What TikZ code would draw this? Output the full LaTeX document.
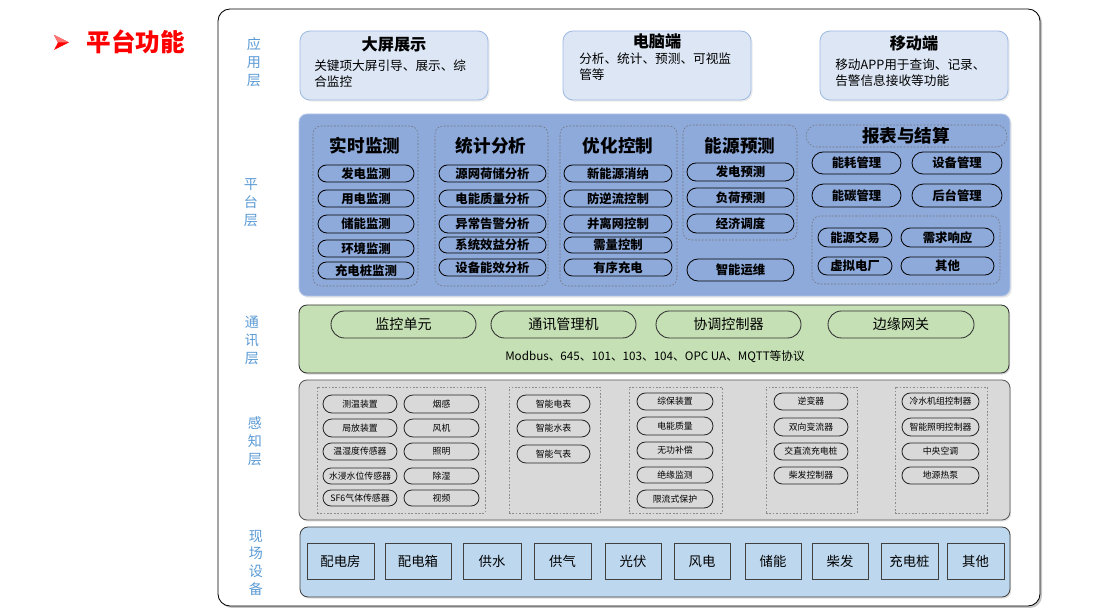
\documentclass[tikz,border=0pt]{standalone}
\usepackage{fontspec}
\setmainfont{Noto Sans CJK SC}
\usetikzlibrary{shapes.misc,shadows}
\definecolor{labblue}{HTML}{5B9BD5}
\definecolor{appfill}{HTML}{DCE6F4}
\definecolor{appdraw}{HTML}{9DB9E3}
\definecolor{platfill}{HTML}{8EAADB}
\definecolor{platdraw}{HTML}{B4C7E7}
\definecolor{commfill}{HTML}{C5E0B4}
\definecolor{percfill}{HTML}{D9D9D9}
\definecolor{fieldfill}{HTML}{BDD7EE}
\definecolor{titlered}{HTML}{FF0000}
\newcommand\mybox[7]{\node[#1, minimum width={(#4-#2)*0.25mm}, minimum height={(#5-#3)*0.25mm}] (#6) at ({(#2+#4)/2},{(#3+#5)/2}) {#7};}
\tikzset{
  base/.style={inner sep=0pt, outer sep=0pt},
  frame/.style={base, draw=black, line width=0.6pt, fill=white, rounded corners=3mm,
    drop shadow={opacity=0.45, shadow xshift=0.5mm, shadow yshift=-0.5mm}},
  lab/.style={text=labblue, align=center, font=\fontsize{10}{12.8}\selectfont},
  appbox/.style={base, draw=appdraw, line width=0.6pt, fill=appfill, rounded corners=2.5mm,
    drop shadow={opacity=0.15, shadow xshift=0.4mm, shadow yshift=-0.4mm}},
  apptitle/.style={font=\fontsize{11.5}{13}\selectfont\bfseries},
  appbody/.style={align=left, inner sep=0pt, anchor=north west, font=\fontsize{9}{10.8}\selectfont},
  layerbox/.style={base, line width=0.6pt, rounded corners=2mm},
  grp/.style={base, draw=black!55, line width=0.4pt, dash pattern=on 1.2pt off 1.2pt, rounded corners=2mm},
  pgrp/.style={base, draw=black!45, line width=0.4pt, dash pattern=on 1.2pt off 1.2pt},
  gtitle/.style={font=\fontsize{12.5}{14}\selectfont\bfseries},
  pill/.style={base, rounded rectangle, draw=black, line width=0.6pt, font=\fontsize{8.8}{10}\selectfont\bfseries},
  cpill/.style={base, rounded rectangle, draw=black!80, line width=0.6pt, font=\fontsize{10}{12}\selectfont},
  spill/.style={base, rounded rectangle, draw=black!85, line width=0.6pt, font=\fontsize{6.3}{7}\selectfont},
  sq/.style={base, draw=black!75, line width=0.7pt, fill=fieldfill, font=\fontsize{9.5}{11}\selectfont,
    drop shadow={opacity=0.35, shadow xshift=0.3mm, shadow yshift=-0.3mm}}
}
\begin{document}
\begin{tikzpicture}[x=0.25mm,y=-0.25mm]
\useasboundingbox (0,0) rectangle (1104,610);
% title
\fill[titlered] (54,35) -- (69,42.5) -- (54,50) -- (58,42.5) -- cycle;
\fill[titlered!55!white] (54,35) -- (69,42.5) -- (58,42.5) -- cycle;
\node[text=titlered, font=\fontsize{17.5}{20}\selectfont\bfseries] (title) at (136,42) {平台功能};
% outer frame
\mybox{frame}{218}{9}{1040}{606}{outer}{}
% layer labels
\node[lab] (l1) at (254,62) {应\\用\\层};
\node[lab] (l2) at (251,203) {平\\台\\层};
\node[lab] (l3) at (252,340) {通\\讯\\层};
\node[lab] (l4) at (255,441) {感\\知\\层};
\node[lab] (l5) at (256,563) {现\\场\\设\\备};
% application layer
\mybox{appbox}{300}{31}{488}{100}{a1}{}
\mybox{appbox}{563}{31}{751}{100}{a2}{}
\mybox{appbox}{820}{31}{1008}{100}{a3}{}
\node[apptitle] (a1t) at (394,44) {大屏展示};
\node[appbody] (a1b) at (314,60) {关键项大屏引导、展示、综\\合监控};
\node[apptitle] (a2t) at (657,41) {电脑端};
\node[appbody] (a2b) at (579,53) {分析、统计、预测、可视监\\管等};
\node[apptitle] (a3t) at (914,43) {移动端};
\node[appbody] (a3b) at (835,59) {移动APP用于查询、记录、\\告警信息接收等功能};
% platform layer
\mybox{layerbox, draw=platdraw, fill=platfill, drop shadow={opacity=0.2, shadow xshift=0.4mm, shadow yshift=-0.4mm}}{299}{114}{1010}{296}{plat}{}
\mybox{grp}{313}{126}{418}{286}{g1}{}
\mybox{grp}{435}{126}{548}{286}{g2}{}
\mybox{grp}{560}{126}{677}{286}{g3}{}
\mybox{grp}{683}{125}{797}{240}{g4}{}
\mybox{grp, rounded corners=2.7mm}{806}{125}{1007}{147}{g5}{}
\mybox{grp}{812}{216}{1000}{284}{g6}{}
\node[gtitle] (g1t) at (365,146) {实时监测};
\node[gtitle] (g2t) at (491,146) {统计分析};
\node[gtitle] (g3t) at (618,146) {优化控制};
\node[gtitle] (g4t) at (740,146) {能源预测};
\node[gtitle] (g5t) at (906,136) {报表与结算};
% col1
\mybox{pill}{318}{165}{414}{182}{p11}{发电监测}
\mybox{pill}{318}{190}{414}{207}{p12}{用电监测}
\mybox{pill}{318}{215}{414}{233}{p13}{储能监测}
\mybox{pill}{318}{240}{414}{257}{p14}{环境监测}
\mybox{pill}{318}{262}{414}{279}{p15}{充电桩监测}
% col2
\mybox{pill}{439}{165}{546}{182}{p21}{源网荷储分析}
\mybox{pill}{439}{190}{546}{207}{p22}{电能质量分析}
\mybox{pill}{439}{215}{546}{233}{p23}{异常告警分析}
\mybox{pill}{439}{237}{546}{253}{p24}{系统效益分析}
\mybox{pill}{439}{259}{546}{276}{p25}{设备能效分析}
% col3
\mybox{pill}{564}{165}{672}{182}{p31}{新能源消纳}
\mybox{pill}{564}{190}{672}{207}{p32}{防逆流控制}
\mybox{pill}{564}{215}{672}{233}{p33}{并离网控制}
\mybox{pill}{564}{237}{672}{253}{p34}{需量控制}
\mybox{pill}{564}{259}{672}{276}{p35}{有序充电}
% col4
\mybox{pill}{687}{163}{794}{181}{p41}{发电预测}
\mybox{pill}{687}{188}{794}{207}{p42}{负荷预测}
\mybox{pill}{687}{214}{794}{233}{p43}{经济调度}
\mybox{pill}{687}{259}{794}{281}{p44}{智能运维}
% col5
\mybox{pill}{812}{152}{901}{174}{p51}{能耗管理}
\mybox{pill}{912}{152}{1002}{174}{p52}{设备管理}
\mybox{pill}{812}{184}{901}{207}{p53}{能碳管理}
\mybox{pill}{912}{184}{1002}{207}{p54}{后台管理}
\mybox{pill}{818}{228}{892}{247}{p55}{能源交易}
\mybox{pill}{901}{228}{994}{247}{p56}{需求响应}
\mybox{pill}{818}{257}{892}{275}{p57}{虚拟电厂}
\mybox{pill}{901}{257}{994}{275}{p58}{其他}
% communication layer
\mybox{layerbox, draw=black!80, fill=commfill, drop shadow={opacity=0.3, shadow xshift=0.3mm, shadow yshift=-0.4mm}}{299}{305}{1009}{373}{comm}{}
\mybox{cpill}{331}{311}{476}{338}{c1}{监控单元}
\mybox{cpill}{491}{311}{636}{338}{c2}{通讯管理机}
\mybox{cpill}{656}{311}{801}{338}{c3}{协调控制器}
\mybox{cpill}{828}{311}{974}{338}{c4}{边缘网关}
\node[font=\fontsize{8.3}{10}\selectfont] (proto) at (655,357) {Modbus、645、101、103、104、OPC UA、MQTT等协议};
% perception layer
\mybox{layerbox, draw=black!65, fill=percfill, drop shadow={opacity=0.2, shadow xshift=0.3mm, shadow yshift=-0.4mm}}{299}{380}{1010}{520}{perc}{}
\mybox{pgrp}{317}{387}{485}{513}{s1}{}
\mybox{pgrp}{509}{387}{600}{513}{s2}{}
\mybox{pgrp}{629}{387}{722}{513}{s3}{}
\mybox{pgrp}{766}{387}{857}{513}{s4}{}
\mybox{pgrp}{895}{387}{987}{513}{s5}{}
\mybox{spill}{323}{395}{397}{413}{q11}{测温装置}
\mybox{spill}{323}{419}{397}{437}{q12}{局放装置}
\mybox{spill}{323}{443}{397}{460}{q13}{温湿度传感器}
\mybox{spill}{323}{468}{397}{484}{q14}{水浸水位传感器}
\mybox{spill}{323}{490}{397}{506}{q15}{SF6气体传感器}
\mybox{spill}{404}{395}{479}{413}{q21}{烟感}
\mybox{spill}{404}{419}{479}{437}{q22}{风机}
\mybox{spill}{404}{443}{479}{460}{q23}{照明}
\mybox{spill}{404}{468}{479}{484}{q24}{除湿}
\mybox{spill}{404}{490}{479}{506}{q25}{视频}
\mybox{spill}{517}{395}{590}{413}{q31}{智能电表}
\mybox{spill}{517}{420}{590}{437}{q32}{智能水表}
\mybox{spill}{517}{445}{590}{463}{q33}{智能气表}
\mybox{spill}{637}{393}{713}{410}{q41}{综保装置}
\mybox{spill}{637}{417}{713}{435}{q42}{电能质量}
\mybox{spill}{637}{442}{713}{459}{q43}{无功补偿}
\mybox{spill}{637}{467}{713}{483}{q44}{绝缘监测}
\mybox{spill}{637}{490}{713}{508}{q45}{限流式保护}
\mybox{spill}{774}{393}{848}{410}{q51}{逆变器}
\mybox{spill}{774}{418}{848}{436}{q52}{双向变流器}
\mybox{spill}{774}{443}{848}{460}{q53}{交直流充电桩}
\mybox{spill}{774}{467}{848}{484}{q54}{柴发控制器}
\mybox{spill}{902}{393}{979}{410}{q61}{冷水机组控制器}
\mybox{spill}{902}{418}{979}{436}{q62}{智能照明控制器}
\mybox{spill}{902}{443}{979}{460}{q63}{中央空调}
\mybox{spill}{902}{467}{979}{484}{q64}{地源热泵}
% field layer
\mybox{layerbox, draw=black!75, fill=fieldfill, drop shadow={opacity=0.25, shadow xshift=0.3mm, shadow yshift=-0.4mm}}{300}{527}{1010}{597}{field}{}
\mybox{sq}{307}{543}{374}{579}{f1}{配电房}
\mybox{sq}{385}{543}{451}{579}{f2}{配电箱}
\mybox{sq}{463}{543}{521}{579}{f3}{供水}
\mybox{sq}{534}{543}{591}{579}{f4}{供气}
\mybox{sq}{605}{543}{661}{579}{f5}{光伏}
\mybox{sq}{674}{543}{730}{579}{f6}{风电}
\mybox{sq}{745}{543}{801}{579}{f7}{储能}
\mybox{sq}{812}{543}{868}{579}{f8}{柴发}
\mybox{sq}{881}{543}{938}{579}{f9}{充电桩}
\mybox{sq}{947}{543}{1004}{579}{f10}{其他}
\end{tikzpicture}
\end{document}
